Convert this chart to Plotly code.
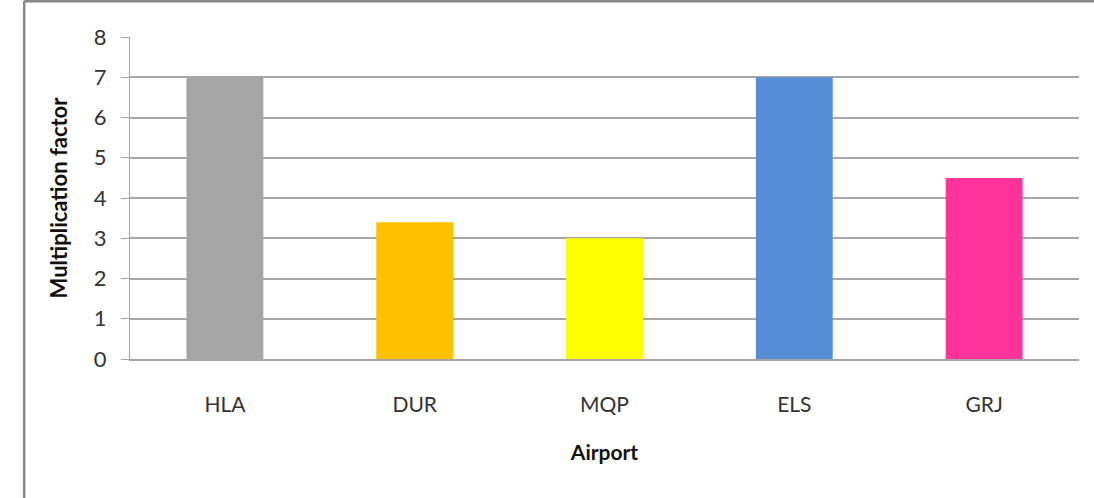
import plotly.graph_objects as go

# Airport multiplication factors
airports = ["HLA", "DUR", "MQP", "ELS", "GRJ"]
factors = [7, 3.4, 3.0, 7, 4.5]
bar_colors = ["#A5A5A5", "#FFC000", "#FFFF00", "#558ED5", "#FF3399"]
y_ticks = [0, 1, 2, 3, 4, 5, 6, 7, 8]

font_family = "Lato, Carlito, 'Open Sans', sans-serif"
grid_color = "#A6A6A6"

fig = go.Figure(
    go.Bar(
        x=airports,
        y=factors,
        marker=dict(color=bar_colors, line=dict(width=0)),
        width=0.405,
        hoverinfo="x+y",
    )
)

fig.update_layout(
    width=1094,
    height=498,
    margin=dict(l=130, r=15, t=37, b=139),
    paper_bgcolor="white",
    plot_bgcolor="white",
    showlegend=False,
    font=dict(family=font_family, color="#222222", size=21),
    xaxis=dict(
        title=dict(text="<b>Airport</b>", font=dict(size=21, color="#111111"), standoff=30),
        showgrid=False,
        showline=True,
        linecolor=grid_color,
        linewidth=1.5,
        ticks="",
        ticklabelstandoff=26,
        tickfont=dict(size=21, color="#333333"),
    ),
    yaxis=dict(
        title=dict(text="<b>Multiplication factor</b>", font=dict(size=22, color="#111111"), standoff=20),
        range=[0, 8],
        tickvals=y_ticks,
        showgrid=True,
        gridcolor=grid_color,
        gridwidth=1.5,
        zeroline=False,
        showline=True,
        linecolor=grid_color,
        linewidth=1,
        ticks="outside",
        ticklen=8,
        tickcolor=grid_color,
        ticklabelstandoff=10,
        tickfont=dict(size=22, color="#333333"),
    ),
    shapes=[
        dict(type="line", xref="paper", yref="paper", x0=-0.1115, x1=1.2, y0=1.111, y1=1.111,
             line=dict(color="#888888", width=2.5)),
        dict(type="line", xref="paper", yref="paper", x0=-0.1115, x1=-0.1115, y0=1.111, y1=-0.5,
             line=dict(color="#888888", width=2.5)),
    ],
)

fig.write_html("out.html")
